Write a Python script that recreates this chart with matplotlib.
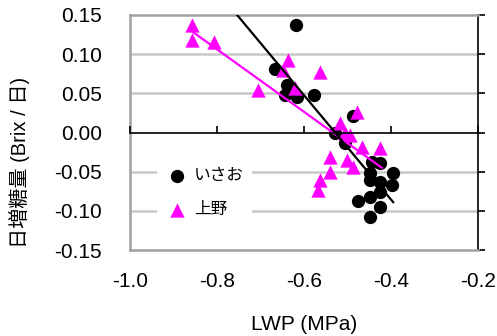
import matplotlib
matplotlib.use('Agg')
import matplotlib.pyplot as plt
import numpy as np

plt.rcParams['font.family'] = ['Liberation Sans', 'Noto Sans CJK JP', 'DejaVu Sans']

# いさお (black circles)
isao_x = [-0.618, -0.667, -0.639, -0.644, -0.616, -0.577, -0.487, -0.529, -0.506,
          -0.444, -0.425, -0.395, -0.448, -0.398, -0.425, -0.448, -0.425, -0.448,
          -0.476, -0.425, -0.448]
isao_y = [0.137, 0.081, 0.061, 0.048, 0.045, 0.048, 0.021, 0.000, -0.013,
          -0.038, -0.039, -0.052, -0.052, -0.067, -0.063, -0.061, -0.076, -0.082,
          -0.088, -0.095, -0.108]

# 上野 (magenta triangles)
ueno_x = [-0.857, -0.857, -0.807, -0.637, -0.648, -0.563, -0.706, -0.621, -0.478,
          -0.517, -0.506, -0.494, -0.467, -0.425, -0.540, -0.501, -0.487, -0.540,
          -0.563, -0.568]
ueno_y = [0.137, 0.118, 0.116, 0.093, 0.080, 0.077, 0.054, 0.057, 0.026,
          0.012, 0.000, -0.003, -0.019, -0.020, -0.031, -0.035, -0.044, -0.050,
          -0.061, -0.073]

# linear trendlines (slope, intercept, x range)
isao_fit = (-0.666, -0.352, -0.78, -0.395)
ueno_fit = (-0.399, -0.213, -0.855, -0.421)

x_ticks = [-1.0, -0.8, -0.6, -0.4, -0.2]
y_ticks = [-0.15, -0.10, -0.05, 0.00, 0.05, 0.10, 0.15]

fig = plt.figure(figsize=(4.97, 3.36), dpi=100)
ax = fig.add_axes([130 / 497, 1 - 250 / 336, 348 / 497, 235 / 336])

ax.set_xlim(-1.0, -0.2)
ax.set_ylim(-0.15, 0.15)

for yv in [-0.10, -0.05, 0.05, 0.10]:
    ax.axhline(yv, color='#c8c8c8', lw=1.8, zorder=0)

ax.scatter(isao_x, isao_y, s=13 ** 2 * 0.54, marker='o', color='black', zorder=3, label='いさお', linewidths=0)
ax.scatter(ueno_x, ueno_y, s=14 ** 2 * 0.54, marker='^', color='#ff00ff', zorder=4, label='上野', linewidths=0)

for (b, a, x0, x1), c in [(ueno_fit, '#ff00ff'), (isao_fit, 'black')]:
    xs = np.array([x0, x1])
    ax.plot(xs, a + b * xs, color=c, lw=1.6, zorder=5)

for s in ['left', 'top', 'bottom']:
    ax.spines[s].set_color('#a0a0a0')
    ax.spines[s].set_linewidth(1.8)
ax.spines['right'].set_color('black')
ax.spines['right'].set_linewidth(1.2)

ax.set_xticks(x_ticks)
ax.set_xticklabels(['%.1f' % v for v in x_ticks])
ax.set_yticks(y_ticks)
ax.set_yticklabels(['%.2f' % v for v in y_ticks])
ax.tick_params(axis='x', length=0, pad=16, labelsize=15)
ax.tick_params(axis='y', left=False, right=True, labelleft=True, labelright=False,
               direction='out', length=5, width=1.2, pad=15, labelsize=15)

# x axis crossing at y = 0
ax2 = ax.twiny()
ax2.set_xlim(ax.get_xlim())
ax2.set_xticks(x_ticks)
ax2.xaxis.set_ticks_position('bottom')
ax2.spines['bottom'].set_position(('data', 0))
ax2.spines['bottom'].set_color('black')
ax2.spines['bottom'].set_linewidth(1.2)
for s in ['left', 'top', 'right']:
    ax2.spines[s].set_visible(False)
ax2.tick_params(axis='x', direction='in', length=5, width=1.2, labelbottom=False, labeltop=False)

ax.set_xlabel('LWP (MPa)', fontsize=15, labelpad=17)
fig.text(20 / 497, 1 - 162 / 336, '日増糖量 (Brix / 日)', rotation=90, fontsize=14.5,
         ha='center', va='center')

leg = ax.legend(loc='upper left', bbox_to_anchor=(0.055, 0.42), fontsize=12,
                frameon=True, fancybox=False, edgecolor='none', facecolor='white',
                framealpha=1, handletextpad=0.4, labelspacing=1.15, borderpad=0.5,
                handlelength=1.3, markerscale=1.0)
leg.set_zorder(6)

fig.savefig('out.png', dpi=100)
